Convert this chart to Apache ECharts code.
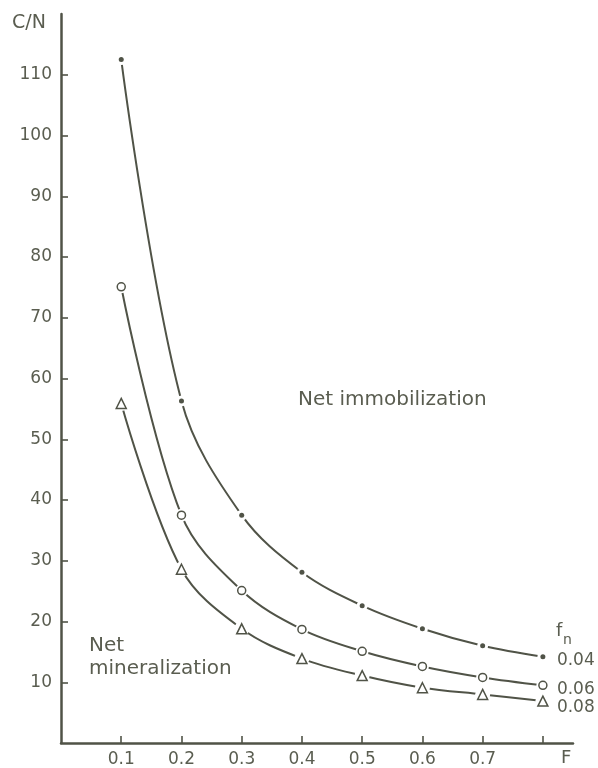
<!DOCTYPE html>
<html>
<head>
<meta charset="utf-8">
<script src="https://cdn.jsdelivr.net/npm/echarts@6/dist/echarts.min.js"></script>
<style>
	html, body { margin: 0; padding: 0; background: #fff; }
	#chart { width: 598px; height: 768px; }
</style>
</head>
<body>
<div id="chart"></div>
<script>
// F values and C/N, one array per fn curve
const fValues = [0.1, 0.2, 0.3, 0.4, 0.5, 0.6, 0.7, 0.8];
const cn004 = [112.5, 56.3, 37.5, 28.1, 22.6, 18.8, 16.0, 14.2];
const cn006 = [75.1, 37.5, 25.1, 18.7, 15.1, 12.6, 10.8, 9.5];
const cn008 = [55.9, 28.6, 18.8, 13.9, 11.1, 9.1, 8.0, 6.9];

const xTicks = [0.1, 0.2, 0.3, 0.4, 0.5, 0.6, 0.7, 0.8];
const xLabels = [0.1, 0.2, 0.3, 0.4, 0.5, 0.6, 0.7];
const yTicks = [10, 20, 30, 40, 50, 60, 70, 80, 90, 100, 110];

const curves = [
	{ name: '0.04', values: cn004, symbol: 'circle', size: 5, halo: 11, hollow: false, dy: 4 },
	{ name: '0.06', values: cn006, symbol: 'circle', size: 8, halo: 13, hollow: true, dy: 4 },
	{ name: '0.08', values: cn008, symbol: 'triangle', size: 10, halo: 15, hollow: true, dy: 6 }
];

const INK = '#505347';
const TEXT = '#5a5d50';
const FONT = '"DejaVu Sans", sans-serif';

const chart = echarts.init(document.getElementById('chart'));

const series = [];
curves.forEach(c => {
	const pts = fValues.map((f, i) => [f, c.values[i]]);
	series.push({
		name: c.name,
		type: 'line',
		data: pts,
		smooth: 0.35,
		symbol: 'none',
		z: 2,
		lineStyle: { color: INK, width: 2 },
		endLabel: {
			show: true,
			formatter: c.name,
			distance: 14,
			offset: [0, c.dy],
			color: TEXT,
			fontFamily: FONT,
			fontSize: 17
		}
	});
	// white halo gives the small gap between line and marker
	series.push({
		type: 'scatter',
		data: pts,
		symbol: 'circle',
		symbolSize: c.halo,
		z: 3,
		silent: true,
		itemStyle: { color: '#fff', opacity: 1 }
	});
	series.push({
		type: 'scatter',
		data: pts,
		symbol: c.symbol,
		symbolSize: c.size,
		z: 4,
		silent: true,
		itemStyle: c.hollow
			? { color: '#fff', borderColor: INK, borderWidth: 1.5, opacity: 1 }
			: { color: INK, opacity: 1 }
	});
});

const option = {
	backgroundColor: '#fff',
	animation: false,
	grid: { left: 61, right: 25, top: 14, bottom: 24 },
	xAxis: {
		type: 'value',
		min: 0,
		max: 0.85,
		axisLine: { lineStyle: { color: INK, width: 2.5 } },
		axisTick: { inside: true, length: 7, lineStyle: { color: INK, width: 1.6 }, customValues: xTicks },
		axisLabel: { color: TEXT, fontFamily: FONT, fontSize: 17, margin: 8, customValues: xLabels },
		splitLine: { show: false }
	},
	yAxis: {
		type: 'value',
		min: 0,
		max: 120,
		axisLine: { show: true, lineStyle: { color: INK, width: 2.5 } },
		axisTick: { inside: true, length: 7, lineStyle: { color: INK, width: 1.6 }, customValues: yTicks },
		axisLabel: { color: TEXT, fontFamily: FONT, fontSize: 17, margin: 9, customValues: yTicks },
		splitLine: { show: false }
	},
	graphic: [
		{ type: 'text', left: 12, top: 14, style: { text: 'C/N', fill: TEXT, font: '19px ' + FONT } },
		{ type: 'text', left: 561, top: 749, style: { text: 'F', fill: TEXT, font: '18px ' + FONT } },
		{ type: 'text', left: 556, top: 622, style: { text: 'f', fill: TEXT, font: '18px ' + FONT } },
		{ type: 'text', left: 563, top: 633, style: { text: 'n', fill: TEXT, font: '14px ' + FONT } },
		{ type: 'text', left: 298, top: 390, style: { text: 'Net immobilization', fill: TEXT, font: '20px ' + FONT } },
		{ type: 'text', left: 89, top: 634, style: { text: 'Net\nmineralization', fill: TEXT, font: '20px ' + FONT, lineHeight: 23 } }
	],
	series
};

chart.setOption(option);
</script>
</body>
</html>
